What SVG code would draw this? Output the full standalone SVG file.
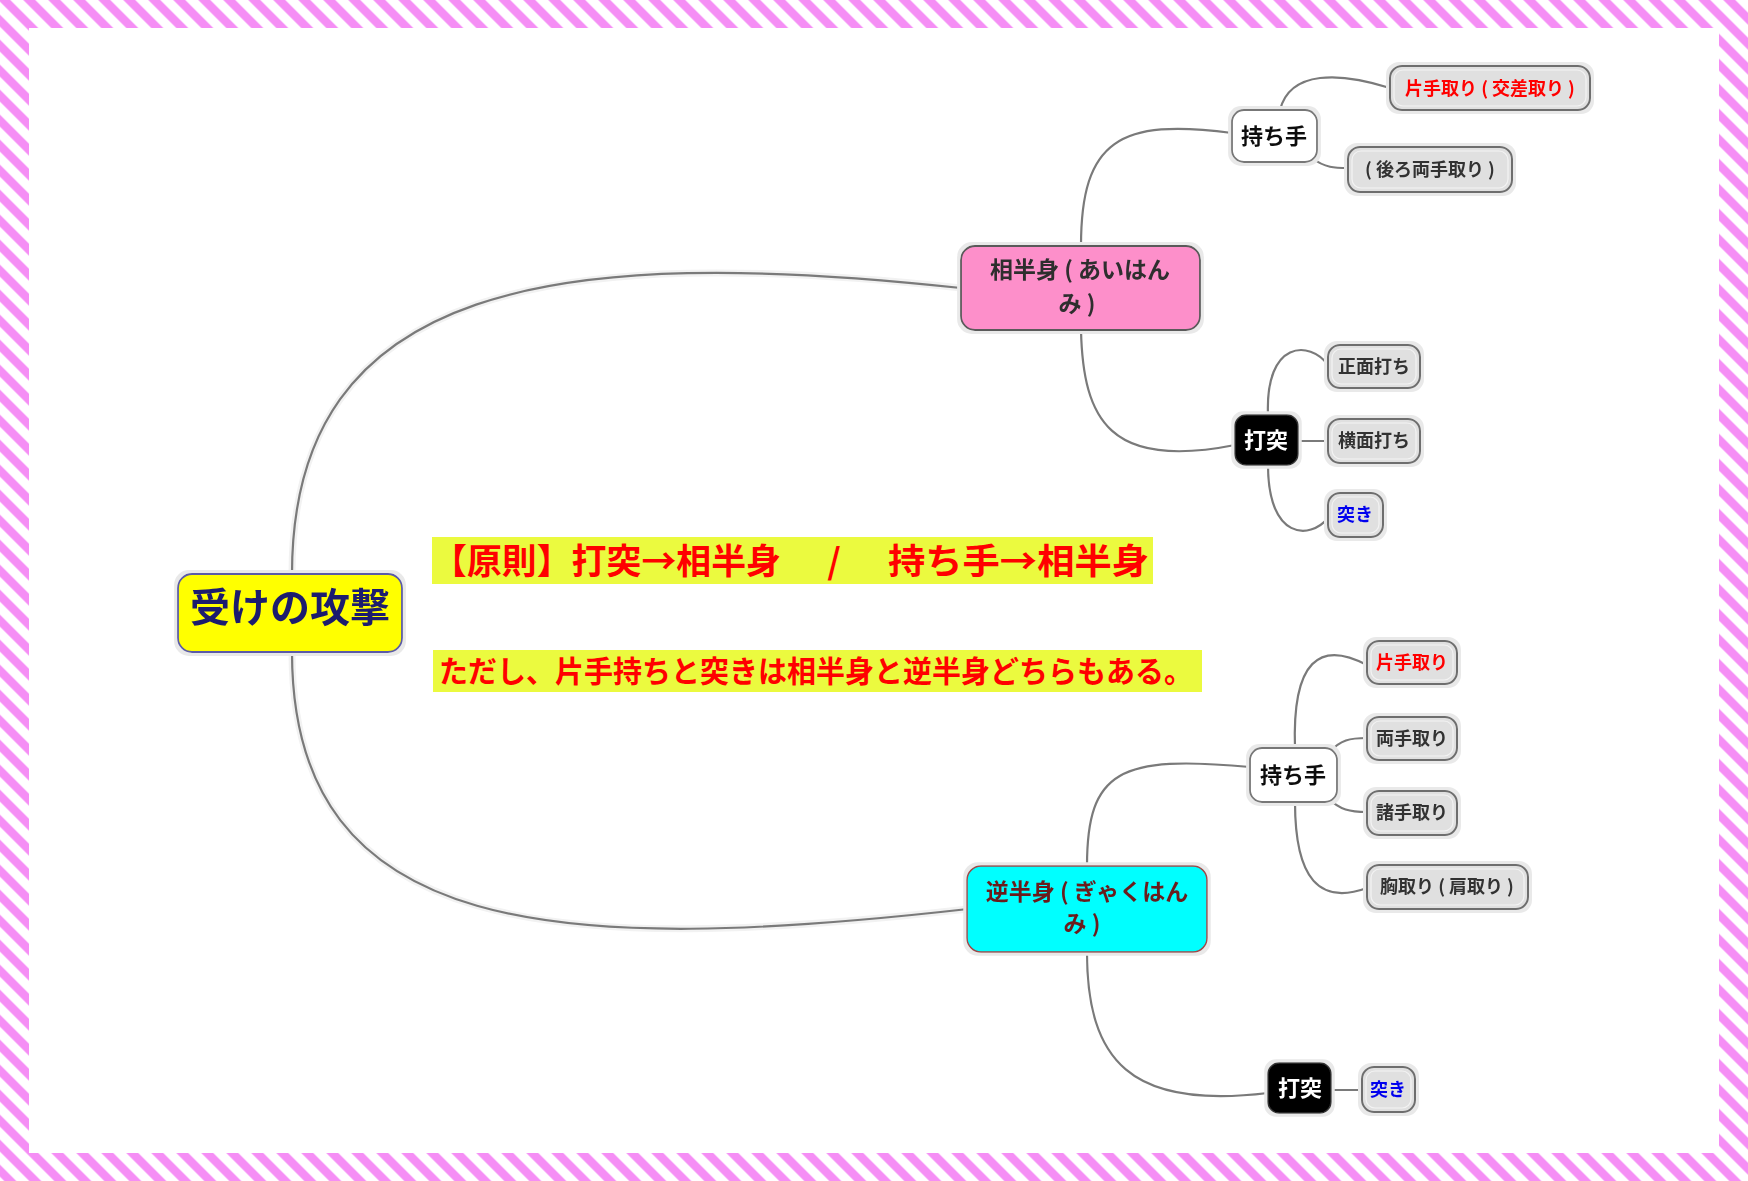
<svg xmlns="http://www.w3.org/2000/svg" width="1748" height="1181" viewBox="0 0 1748 1181">
<style>
.jp{font-family:"Noto Sans CJK JP","Noto Sans CJK SC",sans-serif;font-weight:bold}
.conn{fill:none;stroke:#7a7a7a;stroke-width:2.2;stroke-linecap:round}
.halo{fill:none;stroke:#f2f2f2;stroke-width:7;stroke-linecap:round}
.leaf{fill:#e0e0e0;stroke:#6e6e6e;stroke-width:2}
.leafin{fill:none;stroke:#f3f3f3;stroke-width:1.2}
.white{fill:#ffffff;stroke:#777777;stroke-width:1.8}
.black{fill:#000000;stroke:#333333;stroke-width:1.5}
.t18{font-size:18px;fill:#333333;text-anchor:middle}
.t22{font-size:22px;fill:#111111;text-anchor:middle}
.t22w{font-size:22px;fill:#ffffff;text-anchor:middle}
.red{fill:#ff0000}
.blue{fill:#0000ee}
</style>
<defs>
<pattern id="stripes" patternUnits="userSpaceOnUse" x="-1.7" y="0" width="25" height="25">
<rect width="25" height="25" fill="#ffffff"/>
<polygon points="0,0 12,0 25,13 25,25" fill="#f58ef5"/>
<polygon points="0,13 12,25 0,25" fill="#f58ef5"/>
</pattern>
<filter id="glow" x="-10%" y="-20%" width="120%" height="140%">
<feMorphology in="SourceAlpha" operator="dilate" radius="3" result="d"/>
<feFlood flood-color="#e9e9e9"/>
<feComposite in2="d" operator="in" result="g"/>
<feMerge><feMergeNode in="g"/><feMergeNode in="SourceGraphic"/></feMerge>
</filter>
</defs>

<rect x="0" y="0" width="1748" height="1181" fill="url(#stripes)"/>
<rect x="29" y="28" width="1690" height="1125" fill="#ffffff"/>

<g id="connectors">
<path class="halo" d="M292,574 C292,280 560,245 961,288"/>
<path class="halo" d="M292,652 C292,940 560,955 968,909"/>
<path class="conn" d="M292,574 C292,280 560,245 961,288"/>
<path class="conn" d="M292,652 C292,940 560,955 968,909"/>
<path class="conn" d="M1081,246 C1081,140 1120,118 1232,133"/>
<path class="conn" d="M1280,110 C1290,70 1340,72 1390,88"/>
<path class="conn" d="M1312,158 C1325,168 1335,168 1348,168"/>
<path class="conn" d="M1081,330 C1083,420 1110,470 1235,445"/>
<path class="conn" d="M1268,415 C1265,340 1310,340 1328,365"/>
<path class="conn" d="M1298,441 L1328,441"/>
<path class="conn" d="M1268,465 C1268,540 1310,540 1328,518"/>
<path class="conn" d="M1087,866 C1087,770 1120,755 1250,767"/>
<path class="conn" d="M1295,748 C1292,660 1320,640 1367,665"/>
<path class="conn" d="M1330,752 C1340,740 1350,738 1367,738"/>
<path class="conn" d="M1328,798 C1340,810 1350,812 1367,812"/>
<path class="conn" d="M1295,802 C1295,880 1320,905 1367,888"/>
<path class="conn" d="M1087,952 C1087,1060 1130,1110 1268,1093"/>
<path class="conn" d="M1331,1090 L1362,1090"/>
</g>

<g id="root" filter="url(#glow)">
<rect x="178" y="574" width="224" height="78" rx="14" fill="#ffff00" stroke="#5a5aa8" stroke-width="1.8"/>
<text class="jp" x="290" y="622" font-size="40" fill="#1c1c6e" text-anchor="middle">受けの攻撃</text>
</g>

<g id="note1">
<rect x="432" y="537" width="721" height="47" fill="#ebfa3f"/>
<text class="jp red" x="432" y="574" font-size="35" textLength="349" lengthAdjust="spacingAndGlyphs">【原則】打突→相半身</text>
<text class="jp red" x="834" y="574" font-size="35" text-anchor="middle">/</text>
<text class="jp red" x="888" y="574" font-size="35" textLength="261" lengthAdjust="spacingAndGlyphs">持ち手→相半身</text>
</g>

<g id="note2">
<rect x="433" y="650" width="769" height="42" fill="#ebfa3f"/>
<text class="jp red" x="439" y="682" font-size="30" textLength="754" lengthAdjust="spacingAndGlyphs">ただし、片手持ちと突きは相半身と逆半身どちらもある。</text>
</g>

<g id="aihanmi" filter="url(#glow)">
<rect x="961" y="246" width="239" height="84" rx="14" fill="#fd8fca" stroke="#5a5a5a" stroke-width="1.8"/>
<text class="jp" x="1080" y="278" font-size="23" fill="#2e2e2e" text-anchor="middle">相半身 ( あいはん</text>
<text class="jp" x="1077" y="312" font-size="23" fill="#2e2e2e" text-anchor="middle">み )</text>
</g>

<g id="gyakuhanmi" filter="url(#glow)">
<rect x="967" y="866" width="240" height="86" rx="14" fill="#00ffff" stroke="#a04848" stroke-width="1.5"/>
<text class="jp" x="1087" y="900" font-size="23" fill="#6b1c1c" text-anchor="middle">逆半身 ( ぎゃくはん</text>
<text class="jp" x="1082" y="932" font-size="23" fill="#6b1c1c" text-anchor="middle">み )</text>
</g>

<g id="mochite1" filter="url(#glow)">
<rect class="white" x="1232" y="110" width="85" height="52" rx="12"/>
<text class="jp t22" x="1274" y="144">持ち手</text>
</g>
<g id="katatedori1" filter="url(#glow)">
<rect class="leaf" x="1390" y="66" width="200" height="44" rx="12"/>
<rect class="leafin" x="1394" y="70" width="192" height="36" rx="9"/>
<text class="jp t18 red" x="1490" y="95">片手取り ( 交差取り )</text>
</g>
<g id="ushiro" filter="url(#glow)">
<rect class="leaf" x="1348" y="147" width="164" height="45" rx="12"/>
<rect class="leafin" x="1352" y="151" width="156" height="37" rx="9"/>
<text class="jp t18" x="1430" y="176">( 後ろ両手取り )</text>
</g>

<g id="datotsu1" filter="url(#glow)">
<rect class="black" x="1235" y="415" width="63" height="50" rx="11"/>
<text class="jp t22w" x="1266" y="448">打突</text>
</g>
<g id="shomen" filter="url(#glow)">
<rect class="leaf" x="1328" y="345" width="92" height="43" rx="12"/>
<rect class="leafin" x="1332" y="349" width="84" height="35" rx="9"/>
<text class="jp t18" x="1374" y="373">正面打ち</text>
</g>
<g id="yokomen" filter="url(#glow)">
<rect class="leaf" x="1328" y="419" width="92" height="44" rx="12"/>
<rect class="leafin" x="1332" y="423" width="84" height="36" rx="9"/>
<text class="jp t18" x="1374" y="447">横面打ち</text>
</g>
<g id="tsuki1" filter="url(#glow)">
<rect class="leaf" x="1328" y="493" width="55" height="44" rx="12"/>
<rect class="leafin" x="1332" y="497" width="47" height="36" rx="9"/>
<text class="jp t18 blue" x="1355" y="521">突き</text>
</g>

<g id="mochite2" filter="url(#glow)">
<rect class="white" x="1250" y="748" width="87" height="54" rx="12"/>
<text class="jp t22" x="1293" y="783">持ち手</text>
</g>
<g id="katatedori2" filter="url(#glow)">
<rect class="leaf" x="1367" y="641" width="90" height="43" rx="12"/>
<rect class="leafin" x="1371" y="645" width="82" height="35" rx="9"/>
<text class="jp t18 red" x="1412" y="669">片手取り</text>
</g>
<g id="ryotedori" filter="url(#glow)">
<rect class="leaf" x="1367" y="717" width="90" height="43" rx="12"/>
<rect class="leafin" x="1371" y="721" width="82" height="35" rx="9"/>
<text class="jp t18" x="1412" y="745">両手取り</text>
</g>
<g id="morotedori" filter="url(#glow)">
<rect class="leaf" x="1367" y="791" width="90" height="44" rx="12"/>
<rect class="leafin" x="1371" y="795" width="82" height="36" rx="9"/>
<text class="jp t18" x="1412" y="819">諸手取り</text>
</g>
<g id="munadori" filter="url(#glow)">
<rect class="leaf" x="1367" y="865" width="161" height="44" rx="12"/>
<rect class="leafin" x="1371" y="869" width="153" height="36" rx="9"/>
<text class="jp t18" x="1447" y="893">胸取り ( 肩取り )</text>
</g>

<g id="datotsu2" filter="url(#glow)">
<rect class="black" x="1268" y="1063" width="63" height="50" rx="11"/>
<text class="jp t22w" x="1300" y="1096">打突</text>
</g>
<g id="tsuki2" filter="url(#glow)">
<rect class="leaf" x="1362" y="1067" width="53" height="45" rx="12"/>
<rect class="leafin" x="1366" y="1071" width="45" height="37" rx="9"/>
<text class="jp t18 blue" x="1388" y="1096">突き</text>
</g>
</svg>
